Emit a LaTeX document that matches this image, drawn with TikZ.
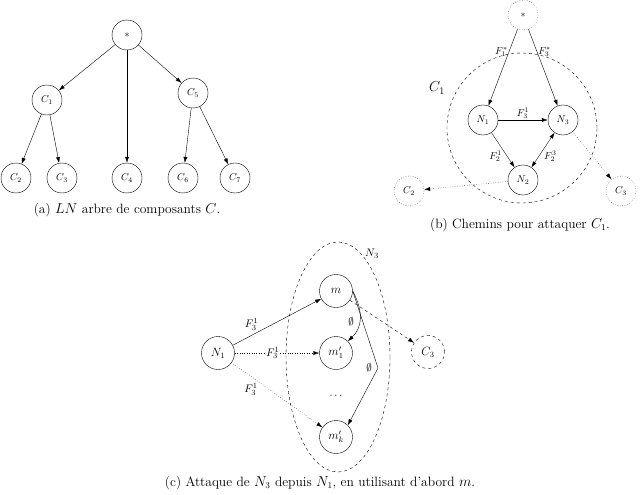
\documentclass[tikz,border=0pt]{standalone}
\usetikzlibrary{arrows.meta,shapes.geometric}
\begin{document}
\begin{tikzpicture}[x=1pt,y=-1pt,
 sm/.style={circle,draw,minimum size=30pt,inner sep=0pt,font=\fontsize{10}{12}\selectfont},
 md/.style={circle,draw,minimum size=33pt,inner sep=0pt,font=\fontsize{12}{14}\selectfont},
 ar/.style={-{Latex[length=6pt,width=4pt]}},
 lb/.style={font=\fontsize{11}{13}\selectfont,inner sep=1pt},
 lbs/.style={font=\fontsize{10}{12}\selectfont,inner sep=1pt},
 captxt/.style={font=\fontsize{13.5}{16}\selectfont}]
\useasboundingbox (0,0) rectangle (640,495);
% (a)
\node[sm] (r) at (127,35) {$*$};
\node[sm] (c1) at (47,100) {$C_1$};
\node[sm] (c5) at (193,93) {$C_5$};
\node[sm] (c2) at (16,178) {$C_2$};
\node[sm] (c3) at (62,178) {$C_3$};
\node[sm] (c4) at (127,178) {$C_4$};
\node[sm] (c6) at (183,178) {$C_6$};
\node[sm] (c7) at (235,178) {$C_7$};
\foreach \a/\b in {r/c1,r/c5,r/c4,c1/c2,c1/c3,c5/c6,c5/c7} \draw[ar] (\a) -- (\b);
\node[captxt] (capa) at (127,210) {(a) $LN$ arbre de composants $C$.};
% (b)
\node[circle,draw,dashed,minimum size=150pt] (big) at (522,128) {};
\node[font=\fontsize{14}{16}\selectfont] (lc1) at (437,88) {$C_1$};
\node[sm,dotted] (s) at (523,15) {$*$};
\node[sm] (n1) at (483,120) {$N_1$};
\node[sm] (n3) at (563,120) {$N_3$};
\node[sm] (n2) at (523,180) {$N_2$};
\node[sm,dotted] (bc2) at (409,191) {$C_2$};
\node[sm,dotted] (bc3) at (621,191) {$C_3$};
\draw[ar] (s) -- node[lbs,pos=0.3,left]{$F_1^*$} (n1);
\draw[ar] (s) -- node[lbs,pos=0.3,right]{$F_3^*$} (n3);
\draw[ar] (n1) -- node[lbs,above]{$F_3^1$} (n3);
\draw[ar] (n1) -- node[lbs,below left]{$F_2^1$} (n2);
\draw[{Latex[length=6pt,width=4pt]}-{Latex[length=6pt,width=4pt]}] (n3) -- node[lbs,below right]{$F_2^3$} (n2);
\draw[ar,dotted] (n2) -- (bc2);
\draw[ar,dotted] (n3) -- (bc3);
\node[captxt] (capb) at (520,225) {(b) Chemins pour attaquer $C_1$.};
% (c)
\node[draw,dashed,ellipse,minimum width=104pt,minimum height=230pt] (ell) at (338,357) {};
\node[lb] (ln3) at (372,254) {$N_3$};
\node[md] (cn1) at (218,353) {$N_1$};
\node[md] (m) at (336,291) {$m$};
\node[md] (m1) at (336,353) {$m'_1$};
\node[md] (mk) at (336,437) {$m'_k$};
\node[lb] (dots) at (336,396) {$\cdots$};
\node[md,dashed] (cc3) at (428,352) {$C_3$};
\coordinate (bend) at (378,368);
\draw[ar] (cn1) -- node[lb,pos=0.3,above left]{$F_3^1$} (m);
\draw[ar,dotted] (cn1) -- node[lb,pos=0.45,fill=white]{$F_3^1$} (m1);
\draw[ar,dotted] (cn1) -- node[lb,pos=0.3,below left]{$F_3^1$} (mk);
\draw[ar] (m.east) .. controls (364,312) and (362,328) .. (m1.north east);
\node[lb] (e1) at (351,322) {$\emptyset$};
\draw[ar] (m.east) -- (bend) -- (mk.north east);
\node[lb] (e2) at (369,368) {$\emptyset$};
\draw[ar,dashed] (m) -- (cc3);
\node[captxt] (capc) at (320,483) {(c) Attaque de $N_3$ depuis $N_1$, en utilisant d'abord $m$.};
\end{tikzpicture}
\end{document}
